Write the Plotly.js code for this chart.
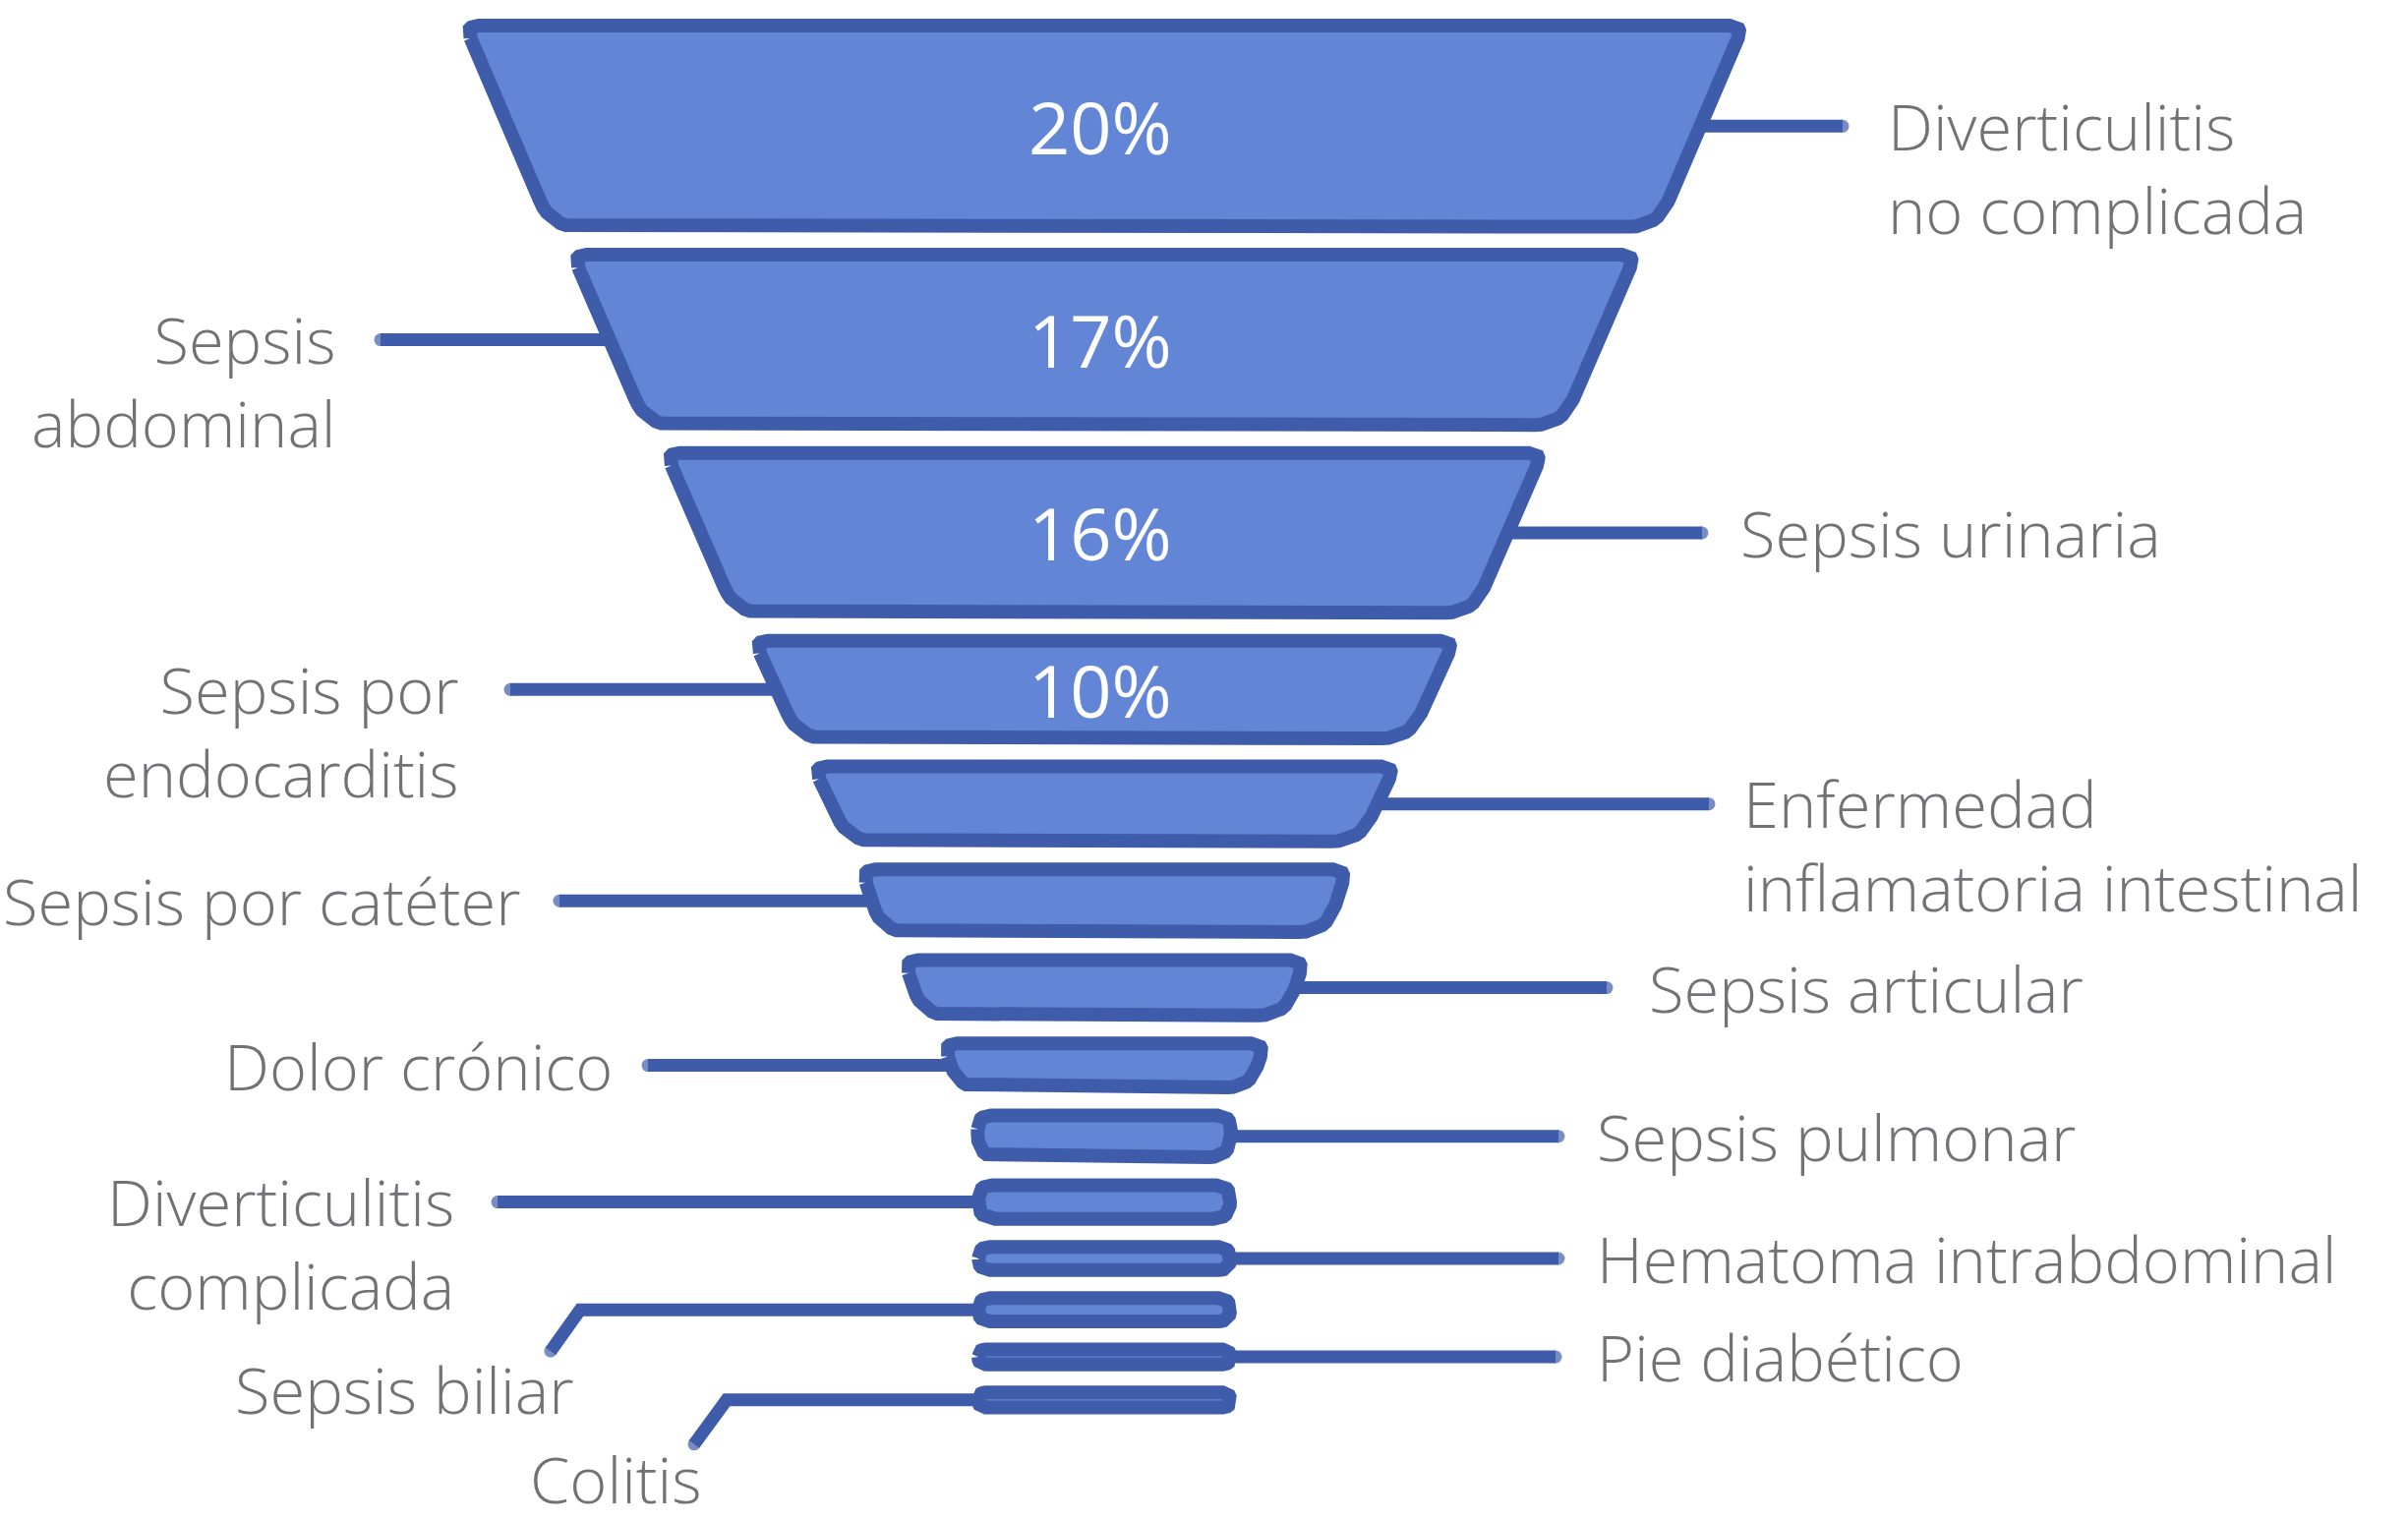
<!DOCTYPE html>
<html>
<head>
<meta charset="utf-8">
<script src="https://cdn.plot.ly/plotly-3.0.1.min.js"></script>
<style>html,body{margin:0;padding:0;background:#fff;}#chart{width:2449px;height:1547px;}</style>
</head>
<body>
<div id="chart"></div>
<script>
// ---------- DATA ----------
const categories = ['Diverticulitis no complicada','Sepsis abdominal','Sepsis urinaria','Sepsis por endocarditis',
  'Enfermedad inflamatoria intestinal','Sepsis por catéter','Sepsis articular','Dolor crónico','Sepsis pulmonar',
  'Diverticulitis complicada','Hematoma intrabdominal','Sepsis biliar','Pie diabético','Colitis'];
const labelLines = [['Diverticulitis','no complicada'],['Sepsis','abdominal'],['Sepsis urinaria'],['Sepsis por','endocarditis'],
  ['Enfermedad','inflamatoria intestinal'],['Sepsis por catéter'],['Sepsis articular'],['Dolor crónico'],['Sepsis pulmonar'],
  ['Diverticulitis','complicada'],['Hematoma intrabdominal'],['Sepsis biliar'],['Pie diabético'],['Colitis']];
const values = [20, 17, 16, 10, 7.8, 6.6, 5.9, 4.8, 4.6, 3.8, 2.8, 2.8, 2.0, 2.0];

// ---------- LABEL LAYOUT (positions, not data) ----------
const labelSide = ['r','l','r','l','r','l','r','l','r','l','r','l','r','l'];
const leaderEnd = [1874, 387, 1731, 519, 1738, 569, 1634, 659, 1585, 506, 1585, 590, 1582, 739];
const textX     = [1918, 344, 1768, 469, 1771, 531, 1675, 625, 1622, 464, 1622, 586, 1622, 626];
const elbow     = {11: {dx: -30, dy: 42, ty: 81, anchor: 'right'}, 13: {dx: -33, dy: 45, ty: 80, anchor: 'center'}};

// ---------- STYLE ----------
const FILL = '#6286d5', STROKE = '#3f5caa', TEXTC = '#727276';
const FONT = '"Open Sans", "Noto Sans", sans-serif';
const FS = 65;
const LW = 14, XC = 1123, TOP = 19, K = 10.52, C0 = 8.2, GAP = 14.5;
const HW0 = 657, TAPER = 0.47, HWMIN = 135, LINE_SP = FS * 1.3;

function roundPoly(pts, radii, n) {
  const out = [];
  const m = pts.length;
  for (let i = 0; i < m; i++) {
    const v = pts[i], p = pts[(i - 1 + m) % m], q = pts[(i + 1) % m];
    const r = radii[i];
    const dp = Math.hypot(p[0]-v[0], p[1]-v[1]), dq = Math.hypot(q[0]-v[0], q[1]-v[1]);
    const a = [v[0] + (p[0]-v[0]) * r / dp, v[1] + (p[1]-v[1]) * r / dp];
    const b = [v[0] + (q[0]-v[0]) * r / dq, v[1] + (q[1]-v[1]) * r / dq];
    for (let k = 0; k <= n; k++) {
      const t = k / n;
      out.push([(1-t)*(1-t)*a[0] + 2*(1-t)*t*v[0] + t*t*b[0], (1-t)*(1-t)*a[1] + 2*(1-t)*t*v[1] + t*t*b[1]]);
    }
  }
  out.push(out[0]);
  return out;
}

const traces = [], shapesTraces = [], annotations = [];
let yOut = TOP;
values.forEach((v, i) => {
  const hOut = K * v + C0;
  const hwTopOut = Math.max(HWMIN, HW0 - TAPER * (yOut - TOP));
  const slope = v >= 7 ? 0.4 : 0.26;
  const hwBotOut = Math.max(HWMIN, hwTopOut - slope * hOut);
  const yt = yOut + LW/2, yb = yOut + hOut - LW/2;
  const hwT = hwTopOut - LW/2, hwB = hwBotOut - LW/2;
  const hp = yb - yt;
  const rT = Math.min(14, hp/2), rB = Math.min(28, hp/2);
  const poly = roundPoly([[XC-hwT, yt],[XC+hwT, yt],[XC+hwB, yb],[XC-hwB, yb]], [rT, rT, rB, rB], 8);
  shapesTraces.push({
    type: 'scatter', mode: 'lines', x: poly.map(p => p[0]), y: poly.map(p => p[1]),
    fill: 'toself', fillcolor: FILL, line: {color: STROKE, width: LW}, hoverinfo: 'skip', name: categories[i]
  });
  const ym = (yt + yb) / 2;
  const hwM = (hwT + hwB) / 2;
  const side = labelSide[i] === 'r' ? 1 : -1;
  const xs = XC + side * (hwM - 20);
  let lx = [xs, leaderEnd[i]], ly = [ym, ym];
  let tx = textX[i], ty = ym, anchor = side > 0 ? 'left' : 'right';
  if (elbow[i]) {
    const e = elbow[i];
    lx.push(leaderEnd[i] + e.dx); ly.push(ym + e.dy);
    ty = ym + e.ty; anchor = e.anchor;
  }
  traces.push({
    type: 'scatter', mode: 'lines+markers', x: lx, y: ly,
    line: {color: STROKE, width: LW - 1},
    marker: {size: lx.map((_, k) => k === lx.length - 1 ? LW - 1 : 0), color: STROKE, line: {width: 0}},
    hoverinfo: 'skip'
  });
  const nL = labelLines[i].length;
  annotations.push({x: tx, y: ty + (nL - 1) * LINE_SP / 2, xref: 'x', yref: 'y',
    text: labelLines[i].join('<br>'), showarrow: false, align: anchor === 'center' ? 'center' : anchor,
    xanchor: anchor, yanchor: 'middle', font: {family: FONT, size: FS, weight: 300, color: TEXTC}});
  if (v >= 10) {
    annotations.push({x: XC - 4, y: ym, xref: 'x', yref: 'y', text: v + '%', showarrow: false,
      xanchor: 'center', yanchor: 'middle', font: {family: FONT, size: 74, color: '#ffffff'}});
  }
  yOut += hOut + GAP;
});

const layout = {
  width: 2449, height: 1547, margin: {l: 0, r: 0, t: 0, b: 0},
  paper_bgcolor: '#ffffff', plot_bgcolor: '#ffffff', showlegend: false, hovermode: false,
  xaxis: {range: [0, 2449], visible: false, fixedrange: true},
  yaxis: {range: [1547, 0], visible: false, fixedrange: true},
  annotations: annotations
};
Plotly.newPlot('chart', traces.concat(shapesTraces), layout, {staticPlot: true, displayModeBar: false});
</script>
</body>
</html>
